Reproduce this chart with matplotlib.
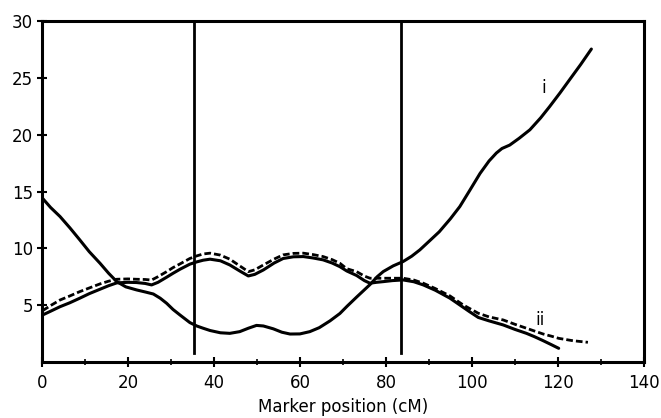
import matplotlib
matplotlib.use("Agg")
import matplotlib.pyplot as plt

# Curve i (solid, rising at the right)
i_x = [0.15, 2.0, 4.2, 6.5, 8.8, 11.0, 13.5, 15.5, 17.4, 19.5, 22.0, 24.0, 25.9, 27.5, 29.0,
       30.5, 32.1, 34.4, 36.0, 37.5, 39.1, 41.5, 43.7, 46.0, 48.0, 49.9, 51.5, 53.8, 55.8,
       57.7, 60.0, 62.3, 64.5, 67.0, 69.3, 71.0, 73.2, 76.3, 78.0, 79.4, 81.7, 84.0, 86.0,
       87.9, 90.0, 92.4, 95.0, 97.2, 99.5, 101.9, 104.0, 105.7, 107.0, 108.8, 111.0, 113.5,
       116.0, 118.1, 120.5, 122.8, 125.3, 127.8]
i_y = [14.4, 13.6, 12.8, 11.8, 10.74, 9.7, 8.68, 7.8, 7.06, 6.6, 6.33, 6.15, 5.97, 5.6, 5.15,
       4.6, 4.12, 3.45, 3.15, 2.95, 2.75, 2.55, 2.5, 2.65, 2.95, 3.2, 3.15, 2.9, 2.6,
       2.44, 2.45, 2.65, 3.0, 3.6, 4.25, 4.9, 5.7, 6.8, 7.5, 7.95, 8.45, 8.83, 9.3,
       9.86, 10.6, 11.45, 12.6, 13.68, 15.1, 16.6, 17.7, 18.4, 18.8, 19.1, 19.7, 20.45,
       21.5, 22.5, 23.7, 24.9, 26.2, 27.57]

# Curve ii (solid)
ii_x = [0.15, 2.0, 4.2, 6.5, 8.8, 11.0, 13.5, 15.5, 17.4, 20.0, 22.0, 24.0, 25.5, 27.0, 29.0,
        30.5, 32.1, 34.4, 36.0, 37.5, 39.1, 41.5, 43.7, 46.0, 48.0, 49.5, 51.5, 54.0, 56.1,
        58.5, 60.8, 63.0, 65.4, 67.5, 69.3, 70.9, 73.2, 75.0, 76.3, 77.8, 79.4, 81.5, 84.0,
        86.5, 88.7, 91.5, 94.9, 97.2, 99.5, 101.5, 104.0, 107.3, 110.0, 112.7, 114.6,
        116.6, 118.5, 120.2]
ii_y = [4.12, 4.45, 4.85, 5.2, 5.6, 6.0, 6.39, 6.7, 6.95, 7.0, 6.98, 6.9, 6.77, 7.0, 7.45,
        7.8, 8.15, 8.6, 8.8, 8.95, 9.04, 8.9, 8.53, 8.0, 7.56, 7.7, 8.09, 8.7, 9.1,
        9.25, 9.27, 9.15, 8.98, 8.7, 8.38, 8.0, 7.6, 7.15, 6.92, 7.0, 7.06, 7.15, 7.21,
        7.05, 6.77, 6.3, 5.6, 5.0, 4.4, 3.9, 3.6, 3.24, 2.85, 2.5, 2.2,
        1.85, 1.5, 1.18]

# Curve ii (dashed)
iid_x = [0.15, 2.0, 4.2, 6.5, 8.8, 11.0, 13.5, 15.5, 17.4, 20.0, 22.0, 24.0, 25.5, 27.0, 29.0,
         30.5, 32.1, 34.4, 36.0, 37.5, 39.1, 41.5, 43.7, 46.0, 48.0, 49.5, 51.5, 54.0, 56.1,
         58.5, 60.8, 63.0, 65.4, 67.5, 69.3, 70.9, 73.2, 75.0, 76.3, 79.4, 84.0,
         86.5, 88.7, 91.5, 94.9, 98.0, 101.5, 104.0, 107.3, 110.0, 112.7, 114.6,
         116.6, 118.5, 120.2, 123.5, 127.0]
iid_y = [4.5, 4.95, 5.44, 5.8, 6.18, 6.5, 6.86, 7.1, 7.27, 7.3, 7.27, 7.25, 7.2, 7.5, 7.94,
         8.3, 8.62, 9.1, 9.33, 9.5, 9.57, 9.4, 9.04, 8.45, 7.94, 8.1, 8.53, 9.05, 9.42,
         9.55, 9.57, 9.45, 9.27, 9.0, 8.68, 8.2, 7.94, 7.55, 7.36, 7.36, 7.36,
         7.2, 6.92, 6.45, 5.8, 5.0, 4.27, 3.95, 3.68, 3.3, 2.95, 2.7,
         2.44, 2.25, 2.06, 1.85, 1.71]

vlines_x = [35.3, 83.6]
x_ticks = [0, 20, 40, 60, 80, 100, 120, 140]
y_ticks = [5, 10, 15, 20, 25, 30]

plt.rcParams['font.family'] = ['DejaVu Sans']

fig = plt.figure(figsize=(6.61, 4.18), dpi=100)
ax = fig.add_axes([0.0635, 0.1347, 0.9105, 0.8139])

lw = 2.2
ax.plot(i_x, i_y, color='black', lw=lw, solid_capstyle='round', solid_joinstyle='round')
ax.plot(ii_x, ii_y, color='black', lw=lw, solid_capstyle='round', solid_joinstyle='round')
ax.plot(iid_x, iid_y, color='black', lw=2.0, dashes=(2.4, 1.1))
for vx in vlines_x:
    ax.plot([vx, vx], [0.77, 30], color='black', lw=2.0)

ax.text(116.8, 24.1, 'i', fontsize=12, ha='center', va='center')
ax.text(115.8, 3.7, 'ii', fontsize=12, ha='center', va='center')

ax.set_xlim(0, 140)
ax.set_ylim(0, 30)
ax.set_xticks(x_ticks)
ax.set_xticks(range(10, 140, 20), minor=True)
ax.set_yticks(y_ticks)
ax.tick_params(axis='both', which='major', direction='inout', length=7, width=1.5,
               labelsize=12)
ax.tick_params(axis='x', which='major', pad=5)
ax.tick_params(axis='x', which='minor', direction='inout', length=5, width=1.2)
ax.tick_params(axis='y', pad=3)
for s in ax.spines.values():
    s.set_linewidth(2.2)

ax.set_xlabel('Marker position (cM)', fontsize=12, labelpad=5)

fig.savefig('out.png', dpi=100)
